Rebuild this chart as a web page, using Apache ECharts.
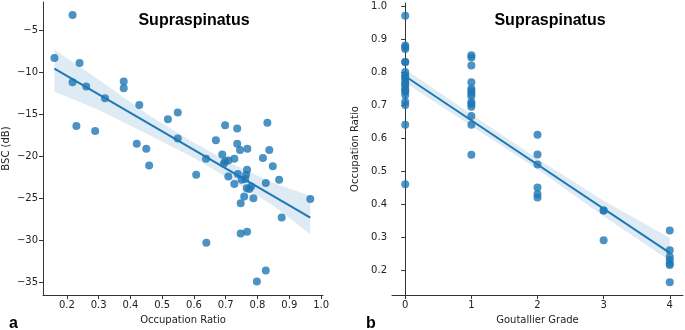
<!DOCTYPE html>
<html>
<head>
<meta charset="utf-8">
<script src="https://cdn.jsdelivr.net/npm/echarts@6/dist/echarts.min.js"></script>
<style>
  html, body { margin: 0; padding: 0; background: #fff; }
  #chart { width: 685px; height: 330px; }
</style>
</head>
<body>
<div id="chart"></div>
<script>
// panel a: occupation ratio vs BSC
const occRatio = [0.161, 0.218, 0.240, 0.218, 0.261, 0.320, 0.379, 0.379, 0.230, 0.289,
  0.428, 0.518, 0.549, 0.549, 0.420, 0.450, 0.459, 0.607, 0.698, 0.736,
  0.831, 0.669, 0.736, 0.745, 0.768, 0.837, 0.689, 0.638, 0.698, 0.708,
  0.727, 0.694, 0.817, 0.848, 0.767, 0.764, 0.708, 0.738, 0.750, 0.761,
  0.727, 0.868, 0.826, 0.766, 0.774, 0.780, 0.758, 0.787, 0.747, 0.966,
  0.876, 0.747, 0.767, 0.639, 0.826, 0.798];
const bscDb = [-8.3, -3.2, -8.9, -11.2, -11.7, -13.1, -11.1, -11.9, -16.4, -17.0,
  -13.9, -15.6, -14.8, -17.9, -18.5, -19.1, -21.1, -22.2, -16.3, -16.7,
  -16.0, -18.1, -18.5, -19.25, -19.1, -19.25, -19.8, -20.3, -20.6, -20.5,
  -20.3, -20.9, -20.2, -21.2, -21.6, -22.2, -22.4, -22.1, -22.8, -22.7,
  -23.3, -22.8, -23.2, -23.8, -23.9, -23.6, -24.8, -25.0, -25.6, -25.1,
  -27.3, -29.2, -29.0, -30.3, -33.6, -34.9];
const fitA = [[0.161, -9.58], [0.966, -27.3]];
const bandAX = [0.161, 0.3, 0.45, 0.6, 0.72, 0.85, 0.966];
const bandAUp = [-7.3, -10.9, -14.9, -18.4, -20.9, -23.2, -24.7];
const bandALo = [-12.3, -14.5, -17.3, -20.2, -22.9, -25.9, -29.3];
const ticksAX = [0.2, 0.3, 0.4, 0.5, 0.6, 0.7, 0.8, 0.9, 1.0];
const ticksAY = [-35, -30, -25, -20, -15, -10, -5];

// panel b: Goutallier grade vs occupation ratio
const grade = [0, 0, 0, 0, 0, 0, 0, 0, 0, 0, 0, 0, 0, 0, 0, 0, 0, 0, 0, 0, 0,
  1, 1, 1, 1, 1, 1, 1, 1, 1, 1, 1, 1, 1, 1,
  2, 2, 2, 2, 2, 2,
  3, 3, 3,
  4, 4, 4, 4, 4, 4, 4];
const gradeRatio = [0.97, 0.88, 0.875, 0.87, 0.83, 0.83, 0.80, 0.79, 0.785, 0.78, 0.77, 0.765, 0.76, 0.75, 0.745, 0.74, 0.73, 0.71, 0.70, 0.64, 0.46,
  0.851, 0.844, 0.82, 0.769, 0.749, 0.743, 0.735, 0.727, 0.709, 0.703, 0.695, 0.667, 0.64, 0.549,
  0.61, 0.55, 0.52, 0.45, 0.43, 0.42,
  0.38, 0.38, 0.29,
  0.32, 0.26, 0.24, 0.23, 0.22, 0.215, 0.163];
const fitB = [[0, 0.787], [4, 0.252]];
const bandBX = [0, 1, 2, 3, 4];
const bandBUp = [0.808, 0.672, 0.537, 0.410, 0.298];
const bandBLo = [0.767, 0.636, 0.505, 0.363, 0.228];
const ticksBX = [0, 1, 2, 3, 4];
const ticksBY = [0.2, 0.3, 0.4, 0.5, 0.6, 0.7, 0.8, 0.9, 1.0];

const blue = "#1f77b4";
const axisColor = "#333";
const font = "DejaVu Sans";

function valueAxis(gridIndex, min, max, ticks, name, nameGap, fmt) {
  return {
    type: "value",
    gridIndex: gridIndex,
    min: min,
    max: max,
    name: name,
    nameLocation: "middle",
    nameGap: nameGap,
    nameTextStyle: { fontFamily: font, fontSize: 10, color: "#222" },
    axisLine: { show: true, lineStyle: { color: axisColor, width: 1 } },
    axisTick: { show: true, length: 4, lineStyle: { color: axisColor }, customValues: ticks },
    axisLabel: {
      fontFamily: font, fontSize: 10, color: "#222", margin: 5,
      customValues: ticks,
      formatter: fmt,
    },
    splitLine: { show: false },
  };
}

function bandSeries(idx, xs, lo, up) {
  return {
    type: "custom",
    xAxisIndex: idx,
    yAxisIndex: idx,
    z: 2,
    silent: true,
    data: xs.map((x, i) => [x, lo[i], up[i]]),
    renderItem: function (params, api) {
      if (params.dataIndex !== 0) return;
      const pts = [];
      xs.forEach((x, i) => pts.push(api.coord([x, up[i]])));
      for (let i = xs.length - 1; i >= 0; i--) pts.push(api.coord([xs[i], lo[i]]));
      return {
        type: "polygon",
        shape: { points: pts },
        style: { fill: "rgba(31,119,180,0.15)" },
      };
    },
  };
}

const minusFmt = (v) => (v < 0 ? "\u2212" + Math.abs(v) : String(v));

const chart = echarts.init(document.getElementById("chart"));
chart.setOption({
  animation: false,
  title: [
    { text: "Supraspinatus", left: 189, top: 8, textAlign: "center",
      textStyle: { fontFamily: "Liberation Sans", fontWeight: "bold", fontSize: 16, color: "#000" } },
    { text: "Supraspinatus", left: 545, top: 8, textAlign: "center",
      textStyle: { fontFamily: "Liberation Sans", fontWeight: "bold", fontSize: 16, color: "#000" } },
    { text: "a", left: 4, top: 311,
      textStyle: { fontFamily: "Liberation Sans", fontWeight: "bold", fontSize: 16, color: "#000" } },
    { text: "b", left: 361, top: 311,
      textStyle: { fontFamily: "Liberation Sans", fontWeight: "bold", fontSize: 16, color: "#000" } },
  ],
  grid: [
    { left: 43, right: 362, top: 2, bottom: 33 },
    { left: 392, right: 2, top: 3, bottom: 33 },
  ],
  xAxis: [
    valueAxis(0, 0.125, 1.006, ticksAX, "Occupation Ratio", 19, (v) => v.toFixed(1)),
    valueAxis(1, -0.2, 4.2, ticksBX, "Goutallier Grade", 19, (v) => String(v)),
  ],
  yAxis: [
    valueAxis(0, -36.53, -1.64, ticksAY, "BSC (dB)", 32, minusFmt),
    valueAxis(1, 0.124, 1.009, ticksBY, "Occupation Ratio", 32, (v) => v.toFixed(1)),
  ],
  series: [
    {
      type: "scatter",
      xAxisIndex: 0, yAxisIndex: 0, z: 1,
      symbolSize: 8,
      itemStyle: { color: blue, opacity: 0.8 },
      data: occRatio.map((x, i) => [x, bscDb[i]]),
    },
    bandSeries(0, bandAX, bandALo, bandAUp),
    {
      type: "line",
      xAxisIndex: 0, yAxisIndex: 0, z: 3,
      showSymbol: false,
      lineStyle: { color: blue, width: 2 },
      data: fitA,
    },
    {
      type: "scatter",
      xAxisIndex: 1, yAxisIndex: 1, z: 1,
      symbolSize: 8,
      itemStyle: { color: blue, opacity: 0.8 },
      data: grade.map((g, i) => [g, gradeRatio[i]]),
    },
    bandSeries(1, bandBX, bandBLo, bandBUp),
    {
      type: "line",
      xAxisIndex: 1, yAxisIndex: 1, z: 3,
      showSymbol: false,
      lineStyle: { color: blue, width: 2 },
      data: fitB,
    },
  ],
});
</script>
</body>
</html>
